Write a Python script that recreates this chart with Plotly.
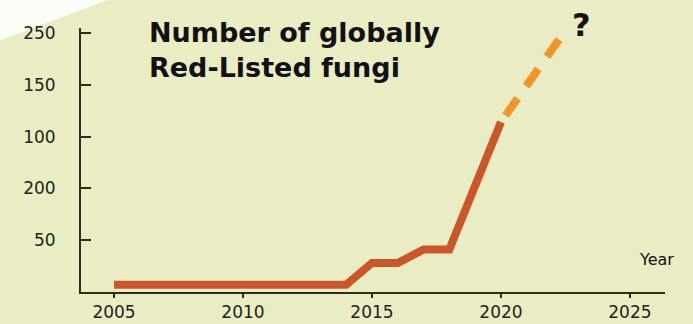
import plotly.graph_objects as go

# Data
years_obs = [2005, 2014, 2015, 2016, 2017, 2018, 2020]
counts_obs = [7, 7, 28, 28, 41, 41, 164]
years_proj = [2020, 2022.4]
counts_proj = [164, 249]

x_tickvals = [2005, 2010, 2015, 2020, 2025]
y_tickvals = [50, 100, 150, 200, 250]
y_ticktext = ["50", "200", "100", "150", "250"]

title_lines = ["Number of globally", "Red-Listed fungi"]

BG = "#EAEDC4"
AXIS = "#2B2B1E"
SOLID = "#C9572B"
DASHED = "#F0952C"

fig = go.Figure()
fig.add_trace(go.Scatter(
    x=years_proj, y=counts_proj, mode="lines",
    line=dict(color=DASHED, width=8, dash="0px,8px,21px,15px,21px,15px,21px,60px"),
    hoverinfo="skip", showlegend=False,
))
fig.add_trace(go.Scatter(
    x=years_obs, y=counts_obs, mode="lines",
    line=dict(color=SOLID, width=8),
    showlegend=False,
))

L, R, T, B = 81, 28, 28, 32
W, H = 693 - L - R, 324 - T - B


def px(xp):
    return (xp - L) / W


def py(yp):
    return (324 - B - yp) / H


# white corner wedge at top-left
fig.add_shape(
    type="path", xref="paper", yref="paper", layer="below",
    path=f"M {px(-5)} {py(-5)} L {px(121)} {py(-5)} L {px(-5)} {py(42)} Z",
    fillcolor="#FCFDF7", line=dict(width=0),
)

fig.add_annotation(
    text="<b>" + "</b><br><b>".join(title_lines) + "</b>", xref="paper", yref="paper",
    x=px(147), y=py(50), xanchor="left", yanchor="middle", align="left",
    showarrow=False, font=dict(family="DejaVu Sans", size=27, color="#111111"),
)
fig.add_annotation(
    text="<b>?</b>", xref="paper", yref="paper",
    x=px(581), y=py(25), xanchor="center", yanchor="middle",
    showarrow=False, font=dict(family="DejaVu Sans", size=32, color="#111111"),
)
fig.add_annotation(
    text="Year", xref="paper", yref="paper",
    x=px(656), y=py(259), xanchor="center", yanchor="middle",
    showarrow=False, font=dict(family="DejaVu Sans", size=16, color="#111111"),
)

fig.update_layout(
    width=693, height=324,
    margin=dict(l=L, r=R, t=T, b=B, autoexpand=False),
    paper_bgcolor=BG, plot_bgcolor=BG,
    showlegend=False,
    font=dict(family="DejaVu Sans", color="#222222"),
)

fig.update_xaxes(
    range=[2003.72, 2026.36], tickvals=x_tickvals, automargin=False,
    showline=True, linecolor=AXIS, linewidth=2,
    ticks="outside", ticklen=4, tickwidth=1.5, tickcolor=AXIS,
    showgrid=False, zeroline=False,
    tickfont=dict(family="DejaVu Sans", size=17, color="#222222"),
)
fig.update_yaxes(
    range=[0, 254.8], tickvals=y_tickvals, ticktext=y_ticktext, automargin=False,
    showline=True, linecolor=AXIS, linewidth=2,
    ticks="inside", ticklen=10, tickwidth=2, tickcolor=AXIS,
    showgrid=False, zeroline=False, ticklabelstandoff=20,
    tickfont=dict(family="DejaVu Sans", size=17, color="#222222"),
)

fig.write_html(
    "out.html",
    config={"displayModeBar": False},
    post_script="document.body.style.margin='0px';document.body.style.overflow='hidden';",
)
